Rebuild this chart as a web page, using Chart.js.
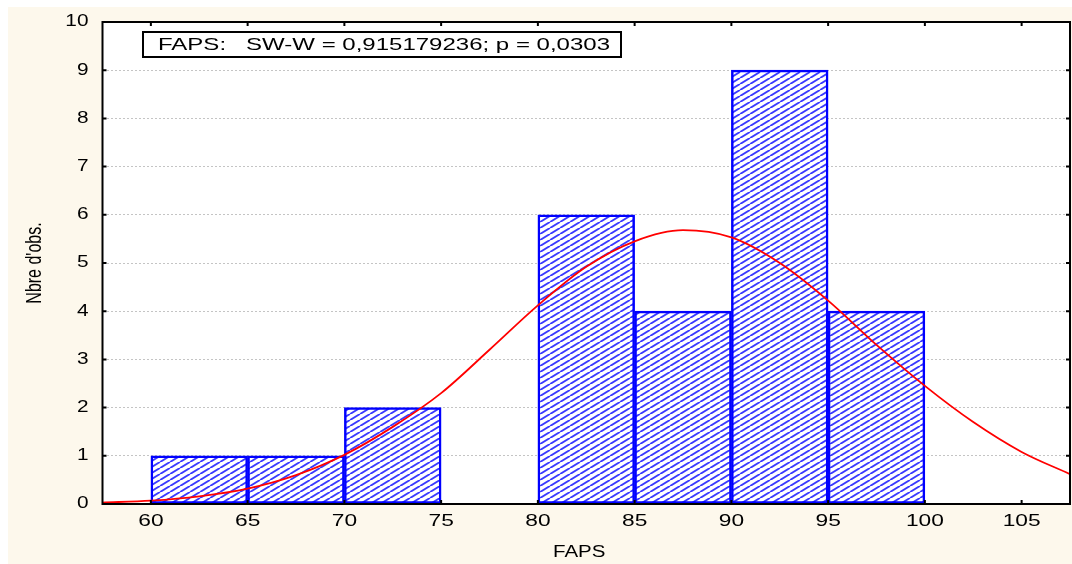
<!DOCTYPE html>
<html>
<head>
<meta charset="utf-8">
<script src="https://cdn.jsdelivr.net/npm/chart.js@4/dist/chart.umd.min.js"></script>
<style>
  html, body { margin: 0; padding: 0; background: #ffffff; }
  #wrap { width: 1072px; height: 564px; position: relative; }
</style>
</head>
<body>
<div id="wrap"><canvas id="c"></canvas></div>
<script>
// ---- data ----
const binCenters = [62.5, 67.5, 72.5, 77.5, 82.5, 87.5, 92.5, 97.5];
const counts     = [1, 1, 2, 0, 6, 4, 9, 4];
const curveX = [57.5, 60, 62.5, 65, 67.5, 70, 72.5, 75, 77.5, 80, 82.5, 85, 87.5, 90, 92.5, 95, 97.5, 100, 102.5, 105, 107.5];
const curveY = [0.03, 0.07, 0.16, 0.32, 0.6, 1.02, 1.6, 2.3, 3.2, 4.12, 4.92, 5.45, 5.68, 5.53, 5.0, 4.22, 3.3, 2.45, 1.7, 1.08, 0.62];
const xTickValues = [60, 65, 70, 75, 80, 85, 90, 95, 100, 105];
const xTickLabels = ['60', '65', '70', '75', '80', '85', '90', '95', '100', '105'];
const yTickValues = [0, 1, 2, 3, 4, 5, 6, 7, 8, 9, 10];
const yTickLabels = ['0', '1', '2', '3', '4', '5', '6', '7', '8', '9', '10'];
const xTitle = 'FAPS';
const yTitle = "Nbre d'obs.";
const legendText = 'FAPS:   SW-W = 0,915179236; p = 0,0303';

// ---- hatch pattern ----
function makeHatch() {
  const t = document.createElement('canvas');
  t.width = 10; t.height = 6;
  const g = t.getContext('2d');
  g.fillStyle = '#ffffff';
  g.fillRect(0, 0, 10, 6);
  g.strokeStyle = '#3a3aff';
  g.lineWidth = 1.9;
  for (let k = -1; k <= 1; k++) {
    g.beginPath();
    g.moveTo(k * 10, 6);
    g.lineTo(k * 10 + 10, 0);
    g.stroke();
  }
  return g.createPattern(t, 'repeat');
}

const FONT = '"Liberation Sans", Arial, sans-serif';

function stretchText(ctx, text, x, y, sx, align, baseline, size) {
  ctx.save();
  ctx.font = size + 'px ' + FONT;
  ctx.fillStyle = '#000000';
  ctx.textAlign = align;
  ctx.textBaseline = baseline;
  ctx.translate(x, y);
  ctx.scale(sx, 1);
  ctx.fillText(text, 0, 0);
  ctx.restore();
}

const decor = {
  id: 'decor',
  beforeDraw(chart) {
    const ctx = chart.ctx, a = chart.chartArea;
    ctx.save();
    ctx.fillStyle = '#fdf8ec';
    ctx.fillRect(8, 7, chart.width - 8, chart.height - 7);
    ctx.fillStyle = '#ffffff';
    ctx.fillRect(a.left, a.top, a.right - a.left, a.bottom - a.top);
    ctx.restore();
  },
  afterDatasetsDraw(chart) {
    const ctx = chart.ctx, a = chart.chartArea;
    const xs = chart.scales.x, ys = chart.scales.y;
    ctx.save();
    ctx.strokeStyle = '#000000';
    ctx.lineWidth = 2;
    ctx.strokeRect(a.left, a.top, a.right - a.left, a.bottom - a.top);
    const tl = 4;
    xTickValues.forEach(v => {
      const px = xs.getPixelForValue(v);
      ctx.beginPath();
      ctx.moveTo(px, a.bottom); ctx.lineTo(px, a.bottom - tl);
      ctx.moveTo(px, a.top); ctx.lineTo(px, a.top + tl);
      ctx.stroke();
    });
    yTickValues.forEach(v => {
      const py = ys.getPixelForValue(v);
      ctx.beginPath();
      ctx.moveTo(a.left, py); ctx.lineTo(a.left + tl, py);
      ctx.moveTo(a.right, py); ctx.lineTo(a.right - tl, py);
      ctx.stroke();
    });
    ctx.restore();
    xTickValues.forEach((v, i) => {
      stretchText(ctx, xTickLabels[i], xs.getPixelForValue(v), a.bottom + 18, 1.42, 'center', 'middle', 16);
    });
    yTickValues.forEach((v, i) => {
      stretchText(ctx, yTickLabels[i], a.left - 14, ys.getPixelForValue(v), 1.3, 'right', 'middle', 16);
    });
    stretchText(ctx, xTitle, (a.left + a.right) / 2 - 7, chart.height - 11, 1.28, 'center', 'middle', 16);
    ctx.save();
    ctx.font = '16px ' + FONT;
    ctx.fillStyle = '#000000';
    ctx.textAlign = 'center';
    ctx.textBaseline = 'middle';
    ctx.translate(35, (a.top + a.bottom) / 2);
    ctx.scale(1.4, 1);
    ctx.rotate(-Math.PI / 2);
    ctx.fillText(yTitle, 0, 0);
    ctx.restore();
    ctx.save();
    ctx.fillStyle = '#ffffff';
    ctx.fillRect(143, 32, 478, 25);
    ctx.strokeStyle = '#000000';
    ctx.lineWidth = 2;
    ctx.strokeRect(143, 32, 478, 25);
    ctx.font = '17px ' + FONT;
    const w = ctx.measureText(legendText).width;
    ctx.restore();
    stretchText(ctx, legendText, 158, 45, 452 / w, 'left', 'middle', 17);
  }
};

const ctx = document.getElementById('c').getContext('2d');
new Chart(ctx, {
  data: {
    datasets: [
      {
        type: 'line',
        order: 0,
        data: curveX.map((x, i) => ({ x: x, y: curveY[i] })),
        borderColor: '#ff0000',
        borderWidth: 1.8,
        pointRadius: 0,
        fill: false,
        cubicInterpolationMode: 'monotone'
      },
      {
        type: 'bar',
        order: 1,
        data: binCenters.map((x, i) => ({ x: x, y: counts[i] })),
        backgroundColor: makeHatch(),
        borderColor: '#0000ff',
        borderWidth: 2.5,
        borderSkipped: false,
        barPercentage: 1.0,
        categoryPercentage: 1.0
      }
    ]
  },
  options: {
    responsive: true,
    maintainAspectRatio: false,
    animation: false,
    layout: { padding: { left: 0, top: 22, right: 2, bottom: 0 } },
    plugins: { legend: { display: false }, tooltip: { enabled: false } },
    scales: {
      x: {
        type: 'linear',
        position: 'bottom',
        offset: false,
        min: 57.5,
        max: 107.5,
        afterBuildTicks: s => { s.ticks = xTickValues.map(v => ({ value: v })); },
        afterFit: s => { s.height = 60; },
        ticks: { display: false },
        grid: { display: false, drawTicks: false, offset: false },
        border: { display: false }
      },
      y: {
        type: 'linear',
        min: 0,
        max: 10,
        afterBuildTicks: s => { s.ticks = yTickValues.map(v => ({ value: v })); },
        afterFit: s => { s.width = 102.5; },
        ticks: { display: false },
        grid: { color: '#c4c4c4', lineWidth: 1, drawTicks: false },
        border: { display: false, dash: [2, 2] }
      }
    }
  },
  plugins: [decor]
});
</script>
</body>
</html>
